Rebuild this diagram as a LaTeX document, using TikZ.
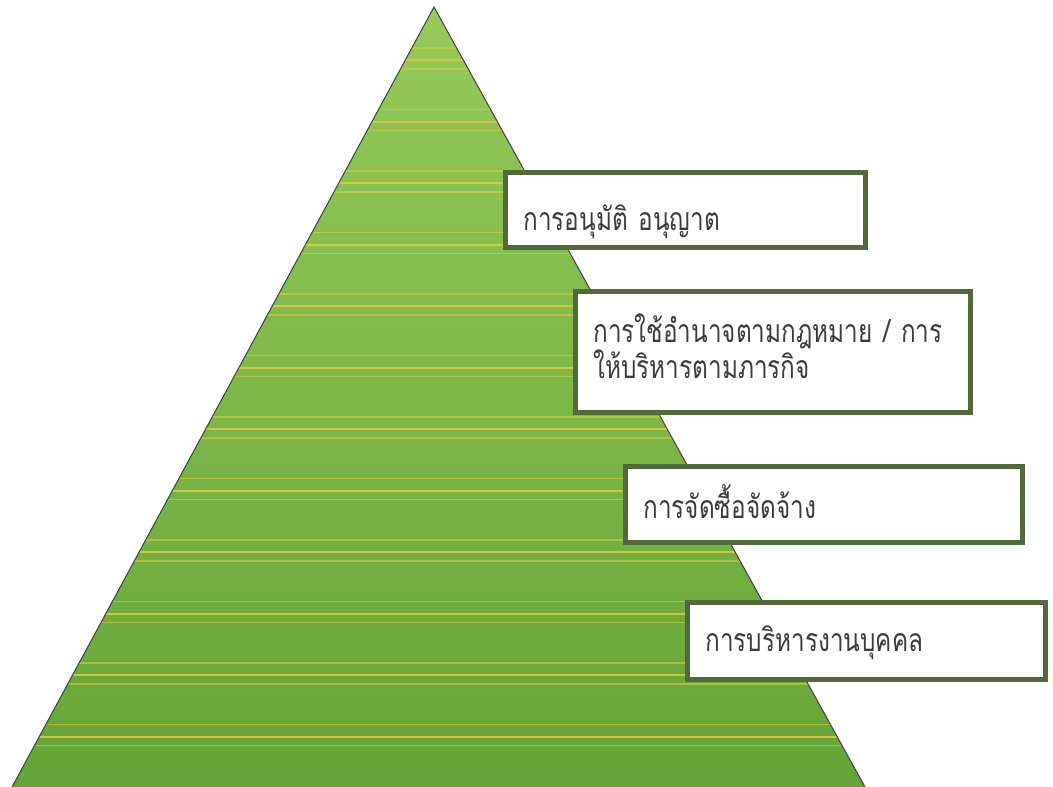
\documentclass[tikz,border=0pt]{standalone}
\usepackage{fontspec}
\newfontfamily\thaifont[Script=Thai, FakeStretch=0.76]{Loma}
\usetikzlibrary{positioning}
\definecolor{leafTop}{RGB}{150,202,90}
\definecolor{leafBottom}{RGB}{100,164,54}
\definecolor{straw}{RGB}{224,200,64}
\definecolor{frame}{RGB}{82,106,58}
\definecolor{ink}{RGB}{60,60,60}
\tikzstyle{duty}=[draw=frame, line width=5pt, fill=white, anchor=north west, outer sep=0pt, inner xsep=18pt, align=left, text height=26pt, text depth=6pt, font=\thaifont\fontsize{32}{36}\selectfont, text=ink]
\tikzstyle{edge}=[draw=black!75, line width=1pt]
\tikzstyle{stripe}=[straw, line width=1.1pt, opacity=0.6]
\tikzstyle{midstripe}=[straw, line width=2pt, opacity=0.9]

\begin{document}
\begin{tikzpicture}[x=1pt, y=-1pt]
  \useasboundingbox (0,0) rectangle (1053,787);
  \coordinate (apex) at (434,7);
  \coordinate (baseL) at (12,787);
  \coordinate (baseR) at (865,787);
  % green pyramid
  \shade[top color=leafTop, bottom color=leafBottom] (apex) -- (baseL) -- (baseR) -- cycle;
  \begin{scope}
    \clip (apex) -- (baseL) -- (baseR) -- cycle;
    \foreach \i in {0,...,11} {
      \pgfmathsetmacro{\m}{60+61.5*\i}
      \draw[stripe] (0,\m-12) -- (1053,\m-12);
      \draw[midstripe] (0,\m) -- (1053,\m);
      \draw[stripe] (0,\m+9) -- (1053,\m+9);
    }
  \end{scope}
  \draw[edge] (baseL) -- (apex) -- (baseR);
  % boxes
  \node[duty, text width=324pt, minimum height=75pt, text height=40pt, text depth=0pt] (approve) at (505.5,172.5) {การอนุมัติ อนุญาต};
  \node[duty, text width=359pt, minimum height=121pt, text height=12pt, text depth=32pt] (power) at (575.5,291.5) {การใช้อำนาจตามกฎหมาย / การ\\ให้บริหารตามภารกิจ};
  \node[duty, text width=361pt, minimum height=76pt, text height=30pt, text depth=2pt] (procure) at (625.5,466.5) {การจัดซื้อจัดจ้าง};
  \node[duty, text width=322pt, minimum height=77pt] (staff) at (687.5,602.5) {การบริหารงานบุคคล};
\end{tikzpicture}
\end{document}
